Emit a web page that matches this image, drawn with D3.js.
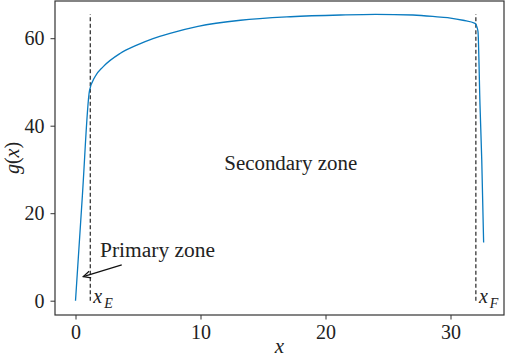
<!DOCTYPE html>
<html><head><meta charset="utf-8">
<script src="https://cdn.jsdelivr.net/npm/d3@7"></script>
<style>
body{margin:0;background:#fff;}
text{font-family:"Liberation Serif","DejaVu Serif",serif;fill:#222;}
</style></head>
<body><svg id="c" width="505" height="363"></svg>
<script>
const xs = [0, 0.55, 1.12, 1.56, 2.22, 3.56, 4.9, 6.2, 7.56, 9.8, 13.2, 17.2, 21.2, 24, 27, 29.2, 30, 31, 31.96, 32.14, 32.2, 32.36, 32.5, 32.65];
const gs = [0, 24, 48, 51.2, 53.5, 56.5, 58.4, 59.9, 61.1, 62.7, 64.1, 64.9, 65.3, 65.45, 65.3, 64.8, 64.6, 64.1, 63.4, 62.3, 61.5, 44.7, 32.2, 13.3];
const xTicks = [0, 10, 20, 30];
const yTicks = [0, 20, 40, 60];
const xE = 1.18, xF = 32.03;
const primaryText = {x: 1.96, y: 10, label: "Primary zone"};
const arrowTail = [3.7, 8.2], arrowTip = [0.62, 5.5];
const secondaryText = {x: 11.9, y: 29.8, label: "Secondary zone"};

const svg = d3.select("#c");
const L = 55, R = 504, T = 1, B = 315;
const x = d3.scaleLinear().domain([-1.64, 34.28]).range([L, R]);
const y = d3.scaleLinear().domain([-3.27, 68.5]).range([B, T]);
const axisColor = "#333";

// axes
const gx = svg.append("g").attr("transform", `translate(0,${B})`)
  .call(d3.axisBottom(x).tickValues(xTicks).tickSize(4.5).tickPadding(6).tickFormat(d3.format("d")));
const gy = svg.append("g").attr("transform", `translate(${L},0)`)
  .call(d3.axisLeft(y).tickValues(yTicks).tickSize(4.5).tickPadding(6).tickFormat(d3.format("d")));
[gx, gy].forEach(g => {
  g.select(".domain").remove();
  g.selectAll(".tick line").attr("stroke", axisColor).attr("stroke-width", 1);
  g.selectAll(".tick text").attr("font-size", 20).attr("font-family", "Liberation Serif").attr("fill", "#222");
});
gx.selectAll(".tick text").attr("dy", "0.71em").attr("y", 10);

// spines
svg.append("rect").attr("x", L).attr("y", T).attr("width", R - L).attr("height", B - T)
  .attr("fill", "none").attr("stroke", axisColor).attr("stroke-width", 1.2);

const gmax = d3.max(gs);
// dashed lines
[xE, xF].forEach(v => {
  svg.append("line").attr("x1", x(v)).attr("x2", x(v)).attr("y1", y(0)).attr("y2", y(gmax))
    .attr("stroke", "#111").attr("stroke-width", 1.1).attr("stroke-dasharray", "4,2.5");
});

// curve
const pts = xs.map((v, i) => [v, gs[i]]);
svg.append("path").datum(pts)
  .attr("d", d3.line().x(d => x(d[0])).y(d => y(d[1])).curve(d3.curveMonotoneX))
  .attr("fill", "none").attr("stroke", "#0a7bc0").attr("stroke-width", 1.3);

// subscript labels
function subLabel(v, main, sub) {
  const t = svg.append("text").attr("x", x(v) + 3).attr("y", y(0) + 2).attr("font-size", 20);
  t.append("tspan").attr("font-style", "italic").text(main);
  t.append("tspan").attr("font-style", "italic").attr("font-size", 14).attr("dy", 5).attr("dx", 2).text(sub);
}
subLabel(xE, "x", "E");
subLabel(xF, "x", "F");

// annotations
svg.append("text").attr("x", x(primaryText.x)).attr("y", y(primaryText.y))
  .attr("font-size", 20).attr("textLength", 115).attr("lengthAdjust", "spacingAndGlyphs").text(primaryText.label);
svg.append("text").attr("x", x(secondaryText.x)).attr("y", y(secondaryText.y))
  .attr("font-size", 20).attr("textLength", 133).attr("lengthAdjust", "spacingAndGlyphs").text(secondaryText.label);

// arrow
const tx = x(arrowTail[0]), ty = y(arrowTail[1]), hx = x(arrowTip[0]), hy = y(arrowTip[1]);
svg.append("line").attr("x1", tx).attr("y1", ty).attr("x2", hx).attr("y2", hy)
  .attr("stroke", "#111").attr("stroke-width", 1.2);
const ang = Math.atan2(ty - hy, tx - hx), hl = 8, ha = 0.45;
svg.append("path")
  .attr("d", `M${hx + hl * Math.cos(ang + ha)},${hy + hl * Math.sin(ang + ha)}L${hx},${hy}L${hx + hl * Math.cos(ang - ha)},${hy + hl * Math.sin(ang - ha)}`)
  .attr("fill", "none").attr("stroke", "#111").attr("stroke-width", 1.2);

// axis labels
svg.append("text").attr("x", (L + R) / 2).attr("y", 353).attr("text-anchor", "middle")
  .attr("font-size", 21).attr("font-style", "italic").text("x");
const yl = svg.append("text").attr("transform", `translate(19,${(T + B) / 2}) rotate(-90)`)
  .attr("text-anchor", "middle").attr("font-size", 20);
yl.append("tspan").attr("font-style", "italic").text("g");
yl.append("tspan").text("(");
yl.append("tspan").attr("font-style", "italic").text("x");
yl.append("tspan").text(")");
</script></body></html>
